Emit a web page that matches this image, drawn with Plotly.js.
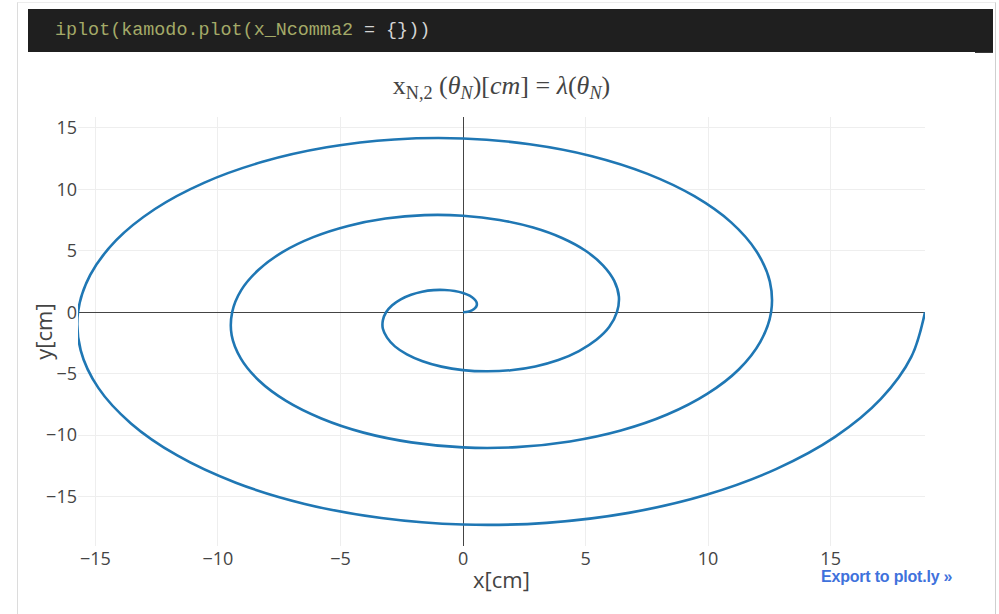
<!DOCTYPE html>
<html>
<head>
<meta charset="utf-8">
<script src="https://cdn.plot.ly/plotly-3.0.1.min.js"></script>
<style>
  html, body { margin: 0; padding: 0; background: #ffffff; width: 999px; height: 614px; overflow: hidden; }
  #frame {
    position: absolute; left: 17px; top: 2px; width: 977px; height: 640px;
    border-left: 1px solid #dcdcdc; border-right: 1px solid #cfcfcf; border-top: 1px solid #ececec;
  }
  #cell {
    position: absolute; left: 28px; top: 9px; width: 965px; height: 43px;
    background: #1f1f1f; border-bottom: 1px solid #3a3a3a;
  }
  #code {
    position: absolute; left: 27px; top: 11px; margin: 0;
    font-family: "Liberation Mono", "DejaVu Sans Mono", monospace; font-size: 18.4px; font-weight: normal;
    color: #a4aa68; white-space: pre;
  }
  #code .op { color: #d4d4d4; }
  #chart { position: absolute; left: 28px; top: 52px; width: 947px; height: 562px; }
  #export {
    position: absolute; left: 821px; top: 568px;
    font-family: "Liberation Sans", Arial, sans-serif; font-size: 16px; font-weight: bold;
    color: #3f72dc; letter-spacing: -0.2px;
  }
</style>
</head>
<body>
<div id="frame"></div>
<div id="cell"><pre id="code">iplot(kamodo.plot(x_Ncomma2 <span class="op">= {}))</span></pre></div>
<div id="chart"></div>
<div id="export">Export to plot.ly »</div>
<script>
// x_N,2 sampled along the spiral (cm)
const xValues = [
  0, 0.19, 0.36, 0.49, 0.56, 0.55, 0.45, 0.27,
  0, -0.34, -0.75, -1.20, -1.67, -2.12, -2.54, -2.89,
  -3.14, -3.27, -3.27, -3.10, -2.78, -2.29, -1.65, -0.88,
  0, 0.96, 1.95, 2.95, 3.89, 4.73, 5.44, 5.97,
  6.28, 6.36, 6.17, 5.71, 5.00, 4.04, 2.86, 1.49,
  0, -1.57, -3.16, -4.69, -6.11, -7.35, -8.34, -9.05,
  -9.42, -9.44, -9.07, -8.33, -7.22, -5.78, -4.06, -2.11,
  0, 2.18, 4.36, 6.44, 8.33, 9.96, 11.25, 12.13,
  12.57, 12.52, 11.97, 10.94, 9.44, 7.53, 5.26, 2.72,
  0, -2.80, -5.56, -8.18, -10.55, -12.57, -14.15, -15.21,
  -15.71, -15.60, -14.88, -13.55, -11.66, -9.27, -6.46, -3.33,
  0, 3.41, 6.76, 9.93, 12.77, 15.18, 17.05, 18.29,
  18.85
];
const yValues = [
  0, 0.04, 0.15, 0.33, 0.56, 0.82, 1.09, 1.35,
  1.57, 1.73, 1.81, 1.80, 1.67, 1.42, 1.05, 0.57,
  0, -0.65, -1.35, -2.07, -2.78, -3.43, -3.99, -4.43,
  -4.71, -4.81, -4.72, -4.41, -3.89, -3.16, -2.25, -1.19,
  0, 1.26, 2.55, 3.82, 5.00, 6.04, 6.89, 7.51,
  7.85, 7.90, 7.62, 7.02, 6.11, 4.91, 3.46, 1.80,
  0, -1.88, -3.76, -5.56, -7.22, -8.65, -9.80, -10.59,
  -11.00, -10.98, -10.52, -9.63, -8.33, -6.65, -4.66, -2.41,
  0, 2.49, 4.96, 7.31, 9.44, 11.26, 12.70, 13.67,
  14.14, 14.06, 13.42, 12.24, 10.55, 8.40, 5.86, 3.03,
  0, -3.10, -6.16, -9.05, -11.66, -13.88, -15.60, -16.75,
  -17.28, -17.14, -16.33, -14.86, -12.77, -10.15, -7.06, -3.64,
  0
];

const tickValues = [-15, -10, -5, 0, 5, 10, 15];

const titleText = 'x<sub>N,2</sub> (<i>θ<sub>N</sub></i>)[<i>cm</i>] = <i>λ</i>(<i>θ<sub>N</sub></i>)';

const trace = {
  x: xValues,
  y: yValues,
  type: 'scatter',
  mode: 'lines',
  line: { color: '#1f77b4', width: 2.6, shape: 'spline', smoothing: 1 },
  hoverinfo: 'x+y'
};

const tickFont = { family: '"Open Sans", "DejaVu Sans", sans-serif', size: 18, color: '#444' };
const axisTitleFont = { family: '"Open Sans", "DejaVu Sans", sans-serif', size: 22, color: '#444' };

const layout = {
  width: 947,
  height: 562,
  margin: { l: 50, r: 50, t: 65, b: 68, pad: 0 },
  paper_bgcolor: '#ffffff',
  plot_bgcolor: '#ffffff',
  showlegend: false,
  title: {
    text: titleText,
    font: { family: '"Liberation Serif", "DejaVu Serif", serif', size: 26, color: '#444' },
    x: 0.5, xanchor: 'center',
    y: 0.942, yanchor: 'middle', yref: 'container'
  },
  xaxis: {
    title: { text: 'x[cm]', font: axisTitleFont, standoff: 3 },
    tickfont: tickFont,
    tickvals: tickValues,
    gridcolor: '#eeeeee', gridwidth: 1.3,
    zeroline: true, zerolinecolor: '#444', zerolinewidth: 1.3,
    showline: false
  },
  yaxis: {
    title: { text: 'y[cm]', font: axisTitleFont, standoff: 0 },
    tickfont: tickFont,
    tickvals: tickValues,
    gridcolor: '#eeeeee', gridwidth: 1.3,
    zeroline: true, zerolinecolor: '#444', zerolinewidth: 1.3,
    showline: false
  }
};

Plotly.newPlot('chart', [trace], layout, { displayModeBar: false, responsive: false });
</script>
</body>
</html>
